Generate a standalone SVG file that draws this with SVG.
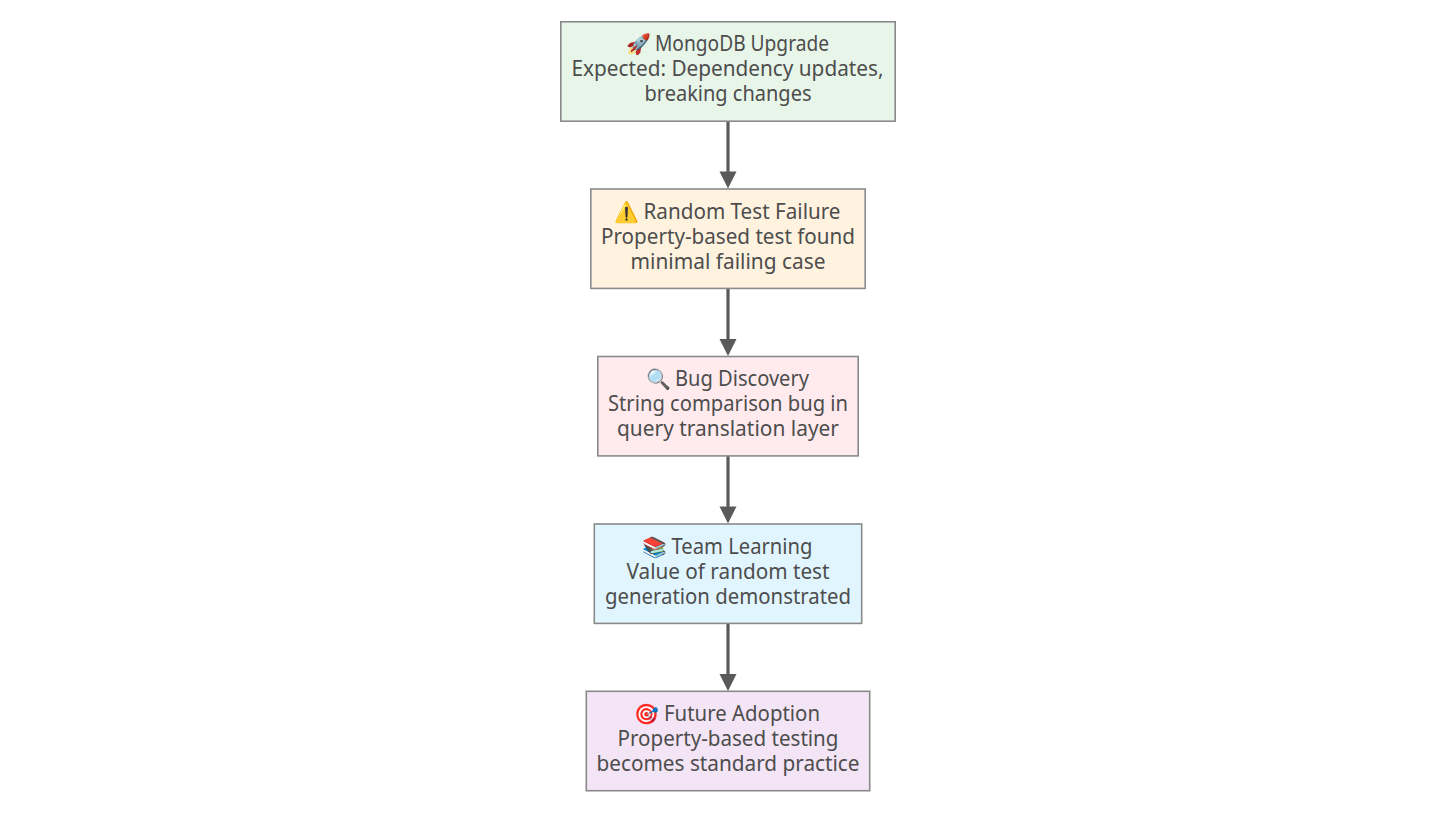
<svg xmlns="http://www.w3.org/2000/svg" width="1456" height="813" viewBox="0 0 1456 813">
<style>
.box{stroke:#8a8a8a;stroke-width:1.6}
.t{font-family:"Noto Sans","Open Sans","Liberation Sans",sans-serif;font-size:21px;fill:#4d4d4d;text-anchor:middle}
.e{font-size:20px}
.c{stroke:#5a5a5a;stroke-width:3.2;fill:none}
.h{fill:#5a5a5a}
</style>
<rect width="1456" height="813" fill="#ffffff"/>
<g id="connectors">
<path class="c" d="M728 121V174"/><path class="h" d="M719.500 171.500H736.500L728 188.500Z"/>
<path class="c" d="M728 288V341"/><path class="h" d="M719.500 339H736.500L728 356Z"/>
<path class="c" d="M728 456V509"/><path class="h" d="M719.500 506.500H736.500L728 523.500Z"/>
<path class="c" d="M728 623V676"/><path class="h" d="M719.500 674H736.500L728 691Z"/>
</g>
<g id="n1"><rect class="box" x="560.800" y="21.800" width="334.400" height="99.400" fill="#e8f5e9"/>
<text class="t" y="51"><tspan class="e" x="638">🚀</tspan><tspan x="742" textLength="174" lengthAdjust="spacingAndGlyphs">MongoDB Upgrade</tspan></text><text class="t" x="727.500" y="76" textLength="312" lengthAdjust="spacingAndGlyphs">Expected: Dependency updates,</text><text class="t" x="728" y="101" textLength="167" lengthAdjust="spacingAndGlyphs">breaking changes</text></g>
<g id="n2"><rect class="box" x="590.800" y="189" width="274.400" height="99.400" fill="#fff3e0"/>
<text class="t" y="218.500"><tspan class="e" x="626">⚠️</tspan><tspan x="742" textLength="197" lengthAdjust="spacingAndGlyphs">Random Test Failure</tspan></text><text class="t" x="728" y="243.500" textLength="254" lengthAdjust="spacingAndGlyphs">Property-based test found</text><text class="t" x="728" y="268.500" textLength="195" lengthAdjust="spacingAndGlyphs">minimal failing case</text></g>
<g id="n3"><rect class="box" x="597.800" y="356.500" width="260.400" height="99.400" fill="#ffebee"/>
<text class="t" y="386"><tspan class="e" x="658">🔍</tspan><tspan x="742" textLength="134" lengthAdjust="spacingAndGlyphs">Bug Discovery</tspan></text><text class="t" x="728" y="411" textLength="240" lengthAdjust="spacingAndGlyphs">String comparison bug in</text><text class="t" x="728" y="436" textLength="222" lengthAdjust="spacingAndGlyphs">query translation layer</text></g>
<g id="n4"><rect class="box" x="594.300" y="524" width="267.400" height="99.400" fill="#e1f5fe"/>
<text class="t" y="553.500"><tspan class="e" x="654">📚</tspan><tspan x="742" textLength="141" lengthAdjust="spacingAndGlyphs">Team Learning</tspan></text><text class="t" x="728" y="578.500" textLength="203" lengthAdjust="spacingAndGlyphs">Value of random test</text><text class="t" x="728" y="603.500" textLength="246" lengthAdjust="spacingAndGlyphs">generation demonstrated</text></g>
<g id="n5"><rect class="box" x="586.300" y="691.300" width="283.400" height="99.400" fill="#f3e5f5"/>
<text class="t" y="721"><tspan class="e" x="646">🎯</tspan><tspan x="742" textLength="156" lengthAdjust="spacingAndGlyphs">Future Adoption</tspan></text><text class="t" x="728" y="746" textLength="221" lengthAdjust="spacingAndGlyphs">Property-based testing</text><text class="t" x="728" y="771" textLength="263" lengthAdjust="spacingAndGlyphs">becomes standard practice</text></g>
</svg>
